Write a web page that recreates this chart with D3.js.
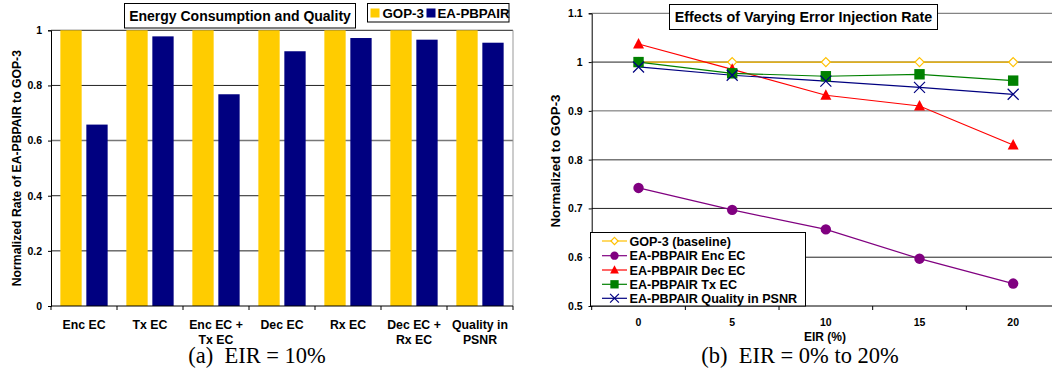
<!DOCTYPE html>
<html>
<head>
<meta charset="utf-8">
<script src="https://cdn.jsdelivr.net/npm/d3@7"></script>
<style>
  body { margin: 0; background: #fff; }
  svg { display: block; }
  text { font-family: "Liberation Sans", Arial, sans-serif; font-weight: bold; fill: #000; }
  .cap { font-family: "Liberation Serif", "Times New Roman", serif; font-weight: normal; }
</style>
</head>
<body>
<svg id="chart" width="1052" height="371"></svg>
<script>
// ---- data: panel (a) ----
const barCats = [["Enc EC"], ["Tx EC"], ["Enc EC +", "Tx EC"], ["Dec EC"], ["Rx EC"], ["Dec EC +", "Rx EC"], ["Quality in", "PSNR"]]
const barSeries = ["GOP-3", "EA-PBPAIR"]
const gop3Bars = [1, 1, 1, 1, 1, 1, 1]
const eaBars = [0.658, 0.978, 0.768, 0.924, 0.972, 0.966, 0.955]
const barTicks = [0, 0.2, 0.4, 0.6, 0.8, 1]

// ---- data: panel (b) ----
const eir = [0, 5, 10, 15, 20]
const gopBase = [1, 1, 1, 1, 1]
const encEC = [0.742, 0.697, 0.657, 0.597, 0.546]
const decEC = [1.037, 0.985, 0.932, 0.910, 0.830]
const txEC = [1.0, 0.977, 0.971, 0.975, 0.962]
const psnr = [0.990, 0.973, 0.961, 0.948, 0.934]
const lineTicks = [0.5, 0.6, 0.7, 0.8, 0.9, 1, 1.1]

const svg = d3.select("#chart")

// ================= panel (a) =================
const a = { left: 51, right: 513, top: 30.3, bottom: 306 }
const x0 = d3.scaleBand().domain(d3.range(barCats.length)).range([a.left, a.right])
const x1 = d3.scaleBand().domain(barSeries).range([0, x0.bandwidth()]).paddingInner(0.18).paddingOuter(0.36)
const ya = d3.scaleLinear().domain([0, 1]).range([a.bottom, a.top])
const barColor = d3.scaleOrdinal().domain(barSeries).range(["#ffcc00", "#000080"])

const ga = svg.append("g")

// grid
ga.selectAll("line.grid")
  .data(barTicks.filter(d => d > 0))
  .enter().append("line")
  .attr("x1", a.left).attr("x2", a.right)
  .attr("y1", d => ya(d)).attr("y2", d => ya(d))
  .attr("stroke", d => d == 0.6 ? "#777" : "#222").attr("stroke-width", d => d == 0.6 ? 1.5 : 1)
ga.append("line").attr("x1", a.right).attr("x2", a.right).attr("y1", a.top).attr("y2", a.bottom).attr("stroke", "#999")

// bars
const barData = barCats.map((c, i) => ({ i, vals: [gop3Bars[i], eaBars[i]] }))
ga.selectAll("g.cat")
  .data(barData)
  .enter().append("g")
  .attr("transform", d => `translate(${x0(d.i)},0)`)
  .selectAll("rect")
  .data(d => d.vals.map((v, k) => ({ s: barSeries[k], v })))
  .enter().append("rect")
  .attr("x", d => x1(d.s))
  .attr("width", x1.bandwidth())
  .attr("y", d => ya(d.v))
  .attr("height", d => ya(0) - ya(d.v))
  .attr("fill", d => barColor(d.s))

// y axis
ga.append("g")
  .attr("transform", `translate(${a.left},0)`)
  .call(d3.axisLeft(ya).tickValues(barTicks).tickSize(3).tickPadding(6).tickFormat(d3.format("~g")))
  .call(g => g.selectAll("text").attr("font-size", 10.5).attr("font-family", null))
  .call(g => g.select(".domain").attr("stroke", "#000"))

// x axis
ga.append("line").attr("x1", a.left).attr("x2", a.right).attr("y1", a.bottom).attr("y2", a.bottom).attr("stroke", "#000")
ga.selectAll("line.xt")
  .data(d3.range(barCats.length + 1))
  .enter().append("line")
  .attr("x1", d => a.left + d * x0.step()).attr("x2", d => a.left + d * x0.step())
  .attr("y1", a.bottom).attr("y2", a.bottom + 4).attr("stroke", "#000")
ga.selectAll("text.xl")
  .data(barData)
  .enter().append("text")
  .attr("text-anchor", "middle")
  .attr("font-size", 12.3)
  .attr("x", d => x0(d.i) + x0.bandwidth() / 2)
  .attr("y", 329)
  .selectAll("tspan")
  .data(d => barCats[d.i].map((t, k) => ({ t, k })))
  .enter().append("tspan")
  .attr("x", function() { return d3.select(this.parentNode).attr("x") })
  .attr("dy", d => d.k ? 15 : 0)
  .text(d => d.t)

// y label
ga.append("text")
  .attr("transform", `translate(20.5,${(a.top + a.bottom) / 2}) rotate(-90)`)
  .attr("text-anchor", "middle").attr("font-size", 12.2)
  .text("Normalized Rate of EA-PBPAIR to GOP-3")

// title
ga.append("rect").attr("x", 124.5).attr("y", 3.5).attr("width", 231).attr("height", 24.5)
  .attr("fill", "#fff").attr("stroke", "#000")
ga.append("text").attr("x", 240).attr("y", 21.3).attr("text-anchor", "middle").attr("font-size", 14)
  .text("Energy Consumption and Quality")

// legend
ga.append("rect").attr("x", 367.5).attr("y", 3.5).attr("width", 141.5).attr("height", 18.5)
  .attr("fill", "#fff").attr("stroke", "#000")
const legA = [{ s: barSeries[0], x: 370.5, tx: 382.5 }, { s: barSeries[1], x: 426.5, tx: 437.5 }]
legA.forEach(d => {
  ga.append("rect").attr("x", d.x).attr("y", 8.5).attr("width", 9).attr("height", 9).attr("fill", barColor(d.s))
  ga.append("text").attr("x", d.tx).attr("y", 17.8).attr("font-size", 13.3).text(d.s)
})

ga.append("text").attr("class", "cap").attr("x", 257).attr("y", 363).attr("text-anchor", "middle")
  .attr("font-size", 22.5).attr("xml:space", "preserve").text("(a)  EIR = 10%")

// ================= panel (b) =================
const b = { left: 591.7, right: 1060, top: 13.3, bottom: 306 }
const xb = d3.scaleBand().domain(eir).range([b.left, b.right])
const yb = d3.scaleLinear().domain([0.5, 1.1]).range([b.bottom, b.top])
const cx = d => xb(d) + xb.bandwidth() / 2

const gb = svg.append("g")

gb.selectAll("line.grid")
  .data(lineTicks.filter(d => d > 0.5))
  .enter().append("line")
  .attr("x1", b.left).attr("x2", b.right)
  .attr("y1", d => yb(d)).attr("y2", d => yb(d))
  .attr("stroke", d => (d == 0.8) ? "#777" : (d == 1.1 || d == 0.9) ? "#666" : "#222")
  .attr("stroke-width", d => d == 0.8 ? 1.5 : 1)

gb.append("g")
  .attr("transform", `translate(${b.left},0)`)
  .call(d3.axisLeft(yb).tickValues(lineTicks).tickSize(3).tickPadding(6).tickFormat(d3.format("~g")))
  .call(g => g.selectAll("text").attr("font-size", 10.5).attr("font-family", null))
  .call(g => g.select(".domain").attr("stroke", "#000"))

gb.append("line").attr("x1", b.left).attr("x2", b.right).attr("y1", b.bottom).attr("y2", b.bottom).attr("stroke", "#000")
gb.selectAll("line.xt")
  .data(d3.range(eir.length + 1))
  .enter().append("line")
  .attr("x1", d => b.left + d * xb.step()).attr("x2", d => b.left + d * xb.step())
  .attr("y1", b.bottom).attr("y2", b.bottom + 4).attr("stroke", "#000")
gb.selectAll("text.xl")
  .data(eir)
  .enter().append("text")
  .attr("text-anchor", "middle").attr("font-size", 10.5)
  .attr("x", d => cx(d)).attr("y", 325.5)
  .text(d => d)

gb.append("text").attr("x", 825).attr("y", 341).attr("text-anchor", "middle").attr("font-size", 12).text("EIR (%)")
gb.append("text")
  .attr("transform", `translate(559.5,${161}) rotate(-90)`)
  .attr("text-anchor", "middle").attr("font-size", 13.3)
  .text("Normalized to GOP-3")

// series
const series = [
  { name: "GOP-3 (baseline)", vals: gopBase, color: "#ffc000", marker: "diamond" },
  { name: "EA-PBPAIR Enc EC", vals: encEC, color: "#800080", marker: "circle" },
  { name: "EA-PBPAIR Dec EC", vals: decEC, color: "#ff0000", marker: "triangle" },
  { name: "EA-PBPAIR Tx EC", vals: txEC, color: "#008000", marker: "square" },
  { name: "EA-PBPAIR Quality in PSNR", vals: psnr, color: "#000080", marker: "x" }
]

function drawMarker(g, type, x, y, color, s) {
  if (type == "diamond") {
    g.append("path").attr("d", `M${x},${y - s}L${x + s},${y}L${x},${y + s}L${x - s},${y}Z`)
      .attr("fill", "#fff").attr("stroke", color).attr("stroke-width", 1.2)
  } else if (type == "circle") {
    g.append("circle").attr("cx", x).attr("cy", y).attr("r", s).attr("fill", color)
  } else if (type == "triangle") {
    g.append("path").attr("d", `M${x},${y - s * 1.1}L${x + s},${y + s * 0.8}L${x - s},${y + s * 0.8}Z`).attr("fill", color)
  } else if (type == "square") {
    g.append("rect").attr("x", x - s).attr("y", y - s).attr("width", 2 * s).attr("height", 2 * s).attr("fill", color)
  } else {
    g.append("path").attr("d", `M${x - s},${y - s}L${x + s},${y + s}M${x - s},${y + s}L${x + s},${y - s}`)
      .attr("stroke", color).attr("stroke-width", 1.2).attr("fill", "none")
  }
}
const markSize = { diamond: 4.5, circle: 5.2, triangle: 5.5, square: 5.2, x: 5.5 }

const line = d3.line().x((d, i) => cx(eir[i])).y(d => yb(d))
series.forEach(s => {
  gb.append("path").datum(s.vals).attr("d", line).attr("fill", "none").attr("stroke", s.color).attr("stroke-width", 1.2)
})
series.forEach(s => {
  s.vals.forEach((v, i) => drawMarker(gb, s.marker, cx(eir[i]), yb(v), s.color, markSize[s.marker]))
})

// title
gb.append("rect").attr("x", 669.5).attr("y", 4.5).attr("width", 268).attr("height", 25)
  .attr("fill", "#fff").attr("stroke", "#000")
gb.append("text").attr("x", 803.5).attr("y", 22.3).attr("text-anchor", "middle").attr("font-size", 14.3)
  .text("Effects of Varying Error Injection Rate")

// legend
gb.append("rect").attr("x", 590.5).attr("y", 232.5).attr("width", 215).attr("height", 73.5)
  .attr("fill", "#fff").attr("stroke", "#000")
const legY = [241, 255.7, 270, 284.3, 298.3]
series.forEach((s, i) => {
  gb.append("line").attr("x1", 602).attr("x2", 627).attr("y1", legY[i]).attr("y2", legY[i]).attr("stroke", s.color).attr("stroke-width", 1.2)
  drawMarker(gb, s.marker, 614.5, legY[i], s.color, markSize[s.marker] * 0.8)
  gb.append("text").attr("x", 629.5).attr("y", legY[i] + 4.5).attr("font-size", 12.6).text(s.name)
})

gb.append("text").attr("class", "cap").attr("x", 800).attr("y", 363).attr("text-anchor", "middle")
  .attr("font-size", 22.5).attr("xml:space", "preserve").text("(b)  EIR = 0% to 20%")
</script>
</body>
</html>
